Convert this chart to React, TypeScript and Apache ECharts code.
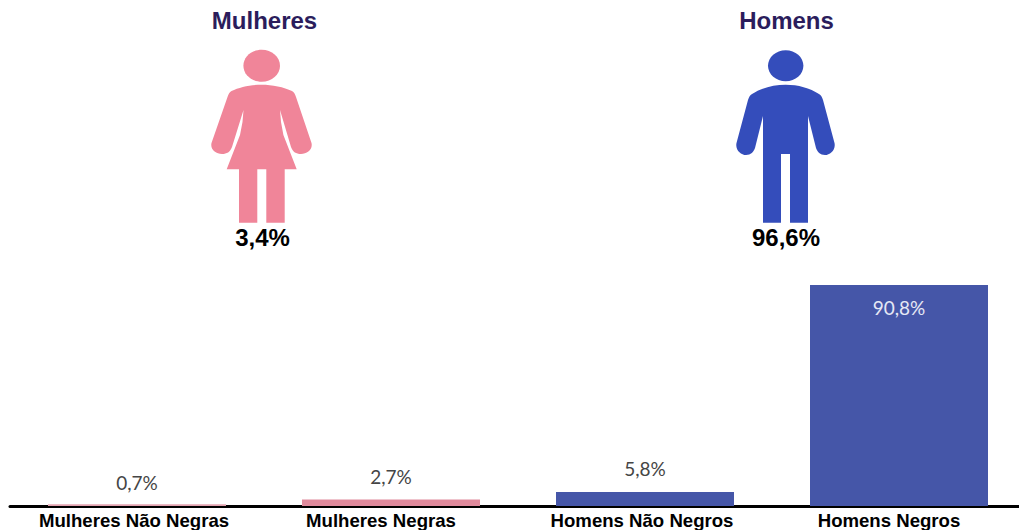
import React, { useEffect, useRef } from "react";
import * as echarts from "echarts";

const categories = ["Mulheres Não Negras", "Mulheres Negras", "Homens Não Negros", "Homens Negros"];
const shares = [0.7, 2.7, 5.8, 90.8];
const shareLabels = ["0,7%", "2,7%", "5,8%", "90,8%"];
const barColors = ["#E3A3B0", "#E08A9C", "#4556A8", "#4556A8"];
const labelGaps = [12.5, 13.5, 14, 13.5];
const groupTitles = ["Mulheres", "Homens"];
const groupTotals = ["3,4%", "96,6%"];

const womanPath =
  "M261.7 84.7 C272 84.7 284 87 292 91 C294 92 295 94 296 97 L311.5 143 C313 150 307 154 301 154 C296 154 293 152 291 147 L280 110 L281 122 L283.4 135 L296.7 169.3 L284.7 169.3 L284.7 222.7 L266.3 222.7 L266.3 169.3 L257.3 169.3 L257.3 222.7 L239 222.7 L239 169.3 L226.7 169.3 L240 135 L242.5 122 L243.5 110 L232 147 C230 152 227 154 222 154 C216 154 210 150 211.5 143 L227.5 97 C228.5 94 229.5 92 231.5 91 C239.5 87 251 84.7 261.7 84.7 Z";
const manPath =
  "M785.7 84.7 C798 84.7 810 88 819 94 C821 95 822 97 823 100 L834.5 143 C836 150 830 155 825 155 C820 155 817.5 152 816 148 L808 116 L808 222.7 L790 222.7 L790 154 L781 154 L781 222.7 L763 222.7 L763 116 L755 148 C753.5 152 751 155 746 155 C741 155 735 150 736.5 143 L748 100 C749 97 750 95 752 94 C761 88 773 84.7 785.7 84.7 Z";

echarts.graphic.registerShape("womanIcon", echarts.graphic.extendPath(womanPath, {}));
echarts.graphic.registerShape("manIcon", echarts.graphic.extendPath(manPath, {}));

const SANS = '"Liberation Sans", Arial, sans-serif';

export default function App() {
  const ref = useRef<HTMLDivElement>(null);
  useEffect(() => {
    document.body.style.margin = "0";
    const chart = echarts.init(ref.current!, undefined, { renderer: "svg" });
    const title = (text: string, x: number) => ({
      type: "text", x, y: 20.5,
      style: { text, fill: "#2B1D5C", font: `bold 24px ${SANS}`, align: "center", verticalAlign: "middle" },
    });
    const total = (text: string, x: number) => ({
      type: "text", x, y: 237,
      style: { text, fill: "#000000", font: `bold 24px ${SANS}`, align: "center", verticalAlign: "middle" },
    });
    const labelBase = { color: "#000000", fontFamily: SANS, fontWeight: "bold", fontSize: 18.6 };
    chart.setOption({
      animation: false,
      backgroundColor: "#ffffff",
      grid: { left: 10, width: 1016, top: 262.6, height: 243.4, containLabel: false, outerBoundsMode: "none" },
      xAxis: {
        type: "category",
        data: categories,
        offset: 1.5,
        axisTick: { show: false },
        axisLine: { show: true, lineStyle: { color: "#000000", width: 3 } },
        axisLabel: {
          ...labelBase,
          margin: 3, interval: 0, hideOverlap: false,
          formatter: (v: string, i: number) => `{${i % 2 === 0 ? "near" : "far"}|${v}}`,
          rich: {
            near: { ...labelBase, padding: [0, 6, 0, 0] },
            far: { ...labelBase, padding: [0, 20, 0, 0] },
          },
        },
      },
      yAxis: { type: "value", min: 0, max: 100, show: false, splitLine: { show: false } },
      series: [
        {
          type: "bar",
          barWidth: 178,
          data: shares.map((v, i) => ({
            value: v,
            itemStyle: { color: barColors[i] },
            label: {
              show: true,
              position: i === 3 ? "insideTop" : "top",
              distance: labelGaps[i],
              formatter: shareLabels[i],
              color: i === 3 ? "#E6E8F5" : "#454545",
              fontFamily: "Lato, sans-serif",
              fontSize: 19,
            },
          })),
        },
      ],
      graphic: [
        title(groupTitles[0], 264.5),
        title(groupTitles[1], 786.5),
        { type: "ellipse", shape: { cx: 261.7, cy: 65.7, rx: 18.3, ry: 16 }, style: { fill: "#F08599" } },
        { type: "womanIcon", x: 0, y: 0, style: { fill: "#F08599" } },
        { type: "ellipse", shape: { cx: 785.7, cy: 65.7, rx: 17.7, ry: 15.5 }, style: { fill: "#344DBB" } },
        { type: "manIcon", x: 0, y: 0, style: { fill: "#344DBB" } },
        total(groupTotals[0], 262.5),
        total(groupTotals[1], 786),
      ],
    });
    return () => chart.dispose();
  }, []);
  return <div ref={ref} style={{ position: "absolute", left: 0, top: 0, width: 1019, height: 530 }} />;
}
